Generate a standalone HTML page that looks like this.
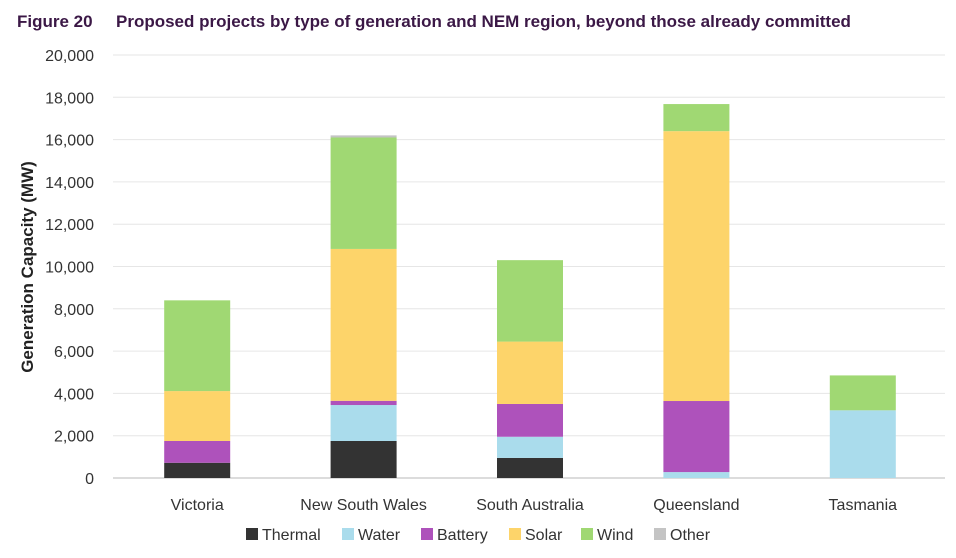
<!DOCTYPE html>
<html><head><meta charset="utf-8"><style>
body{margin:0;background:#fff;font-family:"Liberation Sans",sans-serif;}
svg text{font-family:"Liberation Sans",sans-serif;}
</style></head><body>
<svg width="956" height="553" xmlns="http://www.w3.org/2000/svg">
<text x="17" y="27" font-size="17" font-weight="bold" fill="#3b1846">Figure 20</text>
<text x="116" y="27" font-size="17" font-weight="bold" fill="#3b1846">Proposed projects by type of generation and NEM region, beyond those already committed</text>
<g id="grid"></g><g id="bars"></g><g id="ylab"></g><g id="xlab"></g><g id="legend"></g>
<text transform="translate(33,267) rotate(-90)" text-anchor="middle" font-size="17" font-weight="bold" fill="#222">Generation Capacity (MW)</text>
</svg>
<script>
const categories=["Victoria","New South Wales","South Australia","Queensland","Tasmania"];
const seriesNames=["Thermal","Water","Battery","Solar","Wind","Other"];
const colors=["#333333","#aadcec","#ae52bb","#fdd46a","#a0d873","#c4c4c4"];
const thermal=[720,1750,950,0,0];
const water=[0,1700,1000,280,3200];
const battery=[1030,200,1550,3360,0];
const solar=[2360,7180,2950,12760,0];
const wind=[4290,5270,3850,1280,1650];
const other=[0,100,0,0,0];
const yTicks=[0,2000,4000,6000,8000,10000,12000,14000,16000,18000,20000];
const series=[thermal,water,battery,solar,wind,other];
const NS="http://www.w3.org/2000/svg";
const x0=113,x1=945,y0=478,yTop=55,ymax=20000;
const y=v=>y0-(v/ymax)*(y0-yTop);
const band=(x1-x0)/categories.length;
const xc=i=>x0+band*(i+0.5)+1;
function mk(tag,attrs,parent){const e=document.createElementNS(NS,tag);for(const k in attrs)e.setAttribute(k,attrs[k]);document.getElementById(parent).appendChild(e);return e;}
yTicks.forEach(t=>{
 const l=mk('line',{x1:x0,x2:x1,y1:y(t),y2:y(t),stroke:t===0?'#d0d0d0':'#e6e6e6','stroke-width':t===0?1.5:1},'grid');
 
 
 const tx=mk('text',{x:94,y:y(t)+6,'text-anchor':'end','font-size':16,fill:'#333'},'ylab');
 tx.textContent=t.toLocaleString('en-US');
 
 
});
categories.forEach((c,i)=>{
 let acc=0;
 series.forEach((s,j)=>{
  const v=s[i]; if(!v) return;
  const r=mk('rect',{x:xc(i)-33,width:66,y:y(acc+v),height:y(acc)-y(acc+v),fill:colors[j]},'bars');
  
  
  acc+=v;
 });
 const t=mk('text',{x:xc(i),y:510,'text-anchor':'middle','font-size':16,fill:'#333'},'xlab');
 t.textContent=c;
 
 
});
const lx=[246,342,421,509,581,654];
seriesNames.forEach((n,j)=>{
 const r=mk('rect',{x:lx[j],y:528,width:12,height:12,fill:colors[j]},'legend');
 
 
 const t=mk('text',{x:lx[j]+16,y:540,'font-size':16,fill:'#333'},'legend');
 t.textContent=n;
 
 
});
</script>
</body></html>
